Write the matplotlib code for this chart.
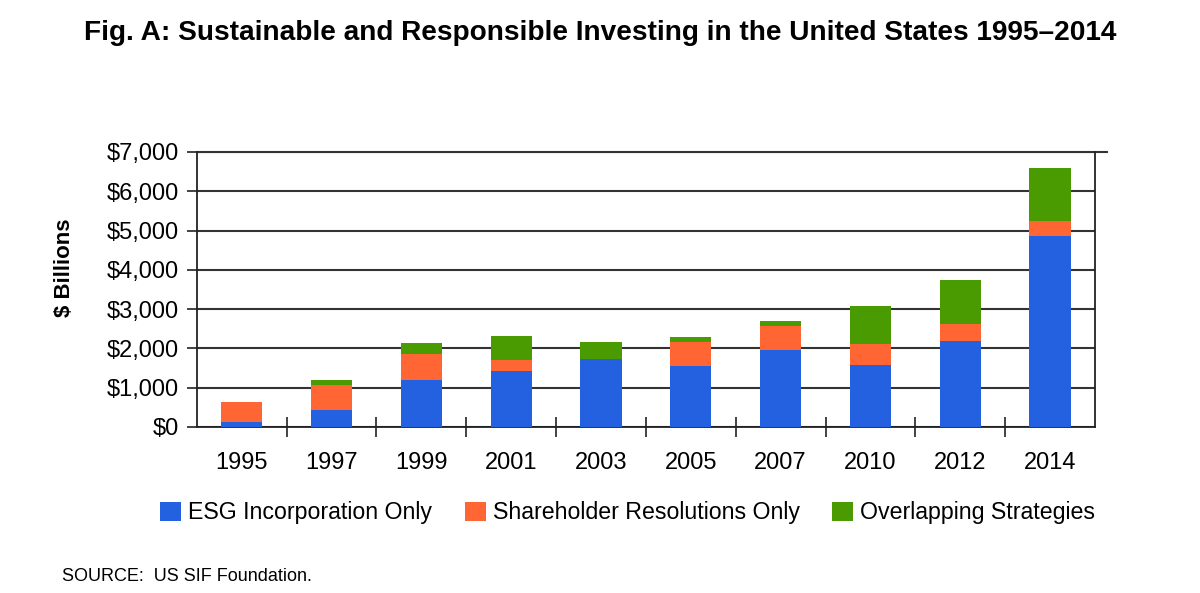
import numpy as np
import matplotlib
matplotlib.use('Agg')
import matplotlib.pyplot as plt
from matplotlib.patches import Patch

plt.rcParams['font.family'] = ['Liberation Sans', 'DejaVu Sans']

# data ($ billions)
years = ['1995', '1997', '1999', '2001', '2003', '2005', '2007', '2010', '2012', '2014']
esg_only = [120, 441, 1203, 1415, 1737, 1562, 1952, 1587, 2190, 4864]
shareholder_only = [519, 618, 661, 280, 0, 603, 612, 518, 442, 374]
overlapping = [0, 127, 272, 619, 424, 118, 144, 976, 1120, 1358]

series_names = ['ESG Incorporation Only', 'Shareholder Resolutions Only', 'Overlapping Strategies']
colors = ['#2361E0', '#FF6633', '#4A9A02']

fig = plt.figure(figsize=(12, 5.93), dpi=100)
ax = fig.add_axes([0.164, 0.280, 0.7485, 0.4637])

x = np.arange(len(years))
w = 0.46
b1 = np.array(esg_only)
b2 = b1 + np.array(shareholder_only)
ax.bar(x, esg_only, w, color=colors[0], zorder=3)
ax.bar(x, shareholder_only, w, bottom=b1, color=colors[1], zorder=3)
ax.bar(x, overlapping, w, bottom=b2, color=colors[2], zorder=3)

ax.set_xlim(-0.5, len(years) - 0.5)
ax.set_ylim(0, 7000)
ax.set_yticks(range(0, 7001, 1000))
ax.set_yticklabels(['$0'] + ['${:,}'.format(v) for v in range(1000, 7001, 1000)], fontsize=17)
ax.set_xticks(x)
ax.set_xticklabels(years, fontsize=17)
ax.tick_params(axis='x', length=0, pad=18)
ax.set_xticks(np.arange(0.5, len(years) - 0.5, 1), minor=True)
ax.tick_params(axis='x', which='minor', direction='inout', length=14, width=1.2, color='#222222')
ax.tick_params(axis='y', direction='out', length=7, width=1.2, color='#222222', pad=6)

ax.yaxis.grid(True, color='#333333', linewidth=1.5, zorder=0)
ax.set_axisbelow(True)
for s in ['left', 'right', 'bottom']:
    ax.spines[s].set_color('#222222')
    ax.spines[s].set_linewidth(1.3)
ax.spines['top'].set_visible(False)
# top gridline runs a bit past the right spine
ax.plot([0, 1.013], [1, 1], transform=ax.transAxes, color='#333333', lw=1.5, clip_on=False)

ax.set_ylabel('$ Billions', fontsize=16, fontweight='bold')
ax.yaxis.set_label_coords(-0.136, 0.578)

handles = [Patch(facecolor=c, edgecolor='none') for c in colors]
fig.legend(handles, series_names, loc='center', bbox_to_anchor=(0.523, 0.135),
           ncol=3, frameon=False, fontsize=16.7, handlelength=0.9, handleheight=0.9,
           handletextpad=0.3, columnspacing=1.4)

fig.text(0.5, 0.944, 'Fig. A: Sustainable and Responsible Investing in the United States 1995\u20132014',
         ha='center', va='center', fontsize=20.2, fontweight='bold')
fig.text(0.052, 0.027, 'SOURCE:  US SIF Foundation.', ha='left', va='center', fontsize=13)

fig.savefig('out.png', dpi=100)
